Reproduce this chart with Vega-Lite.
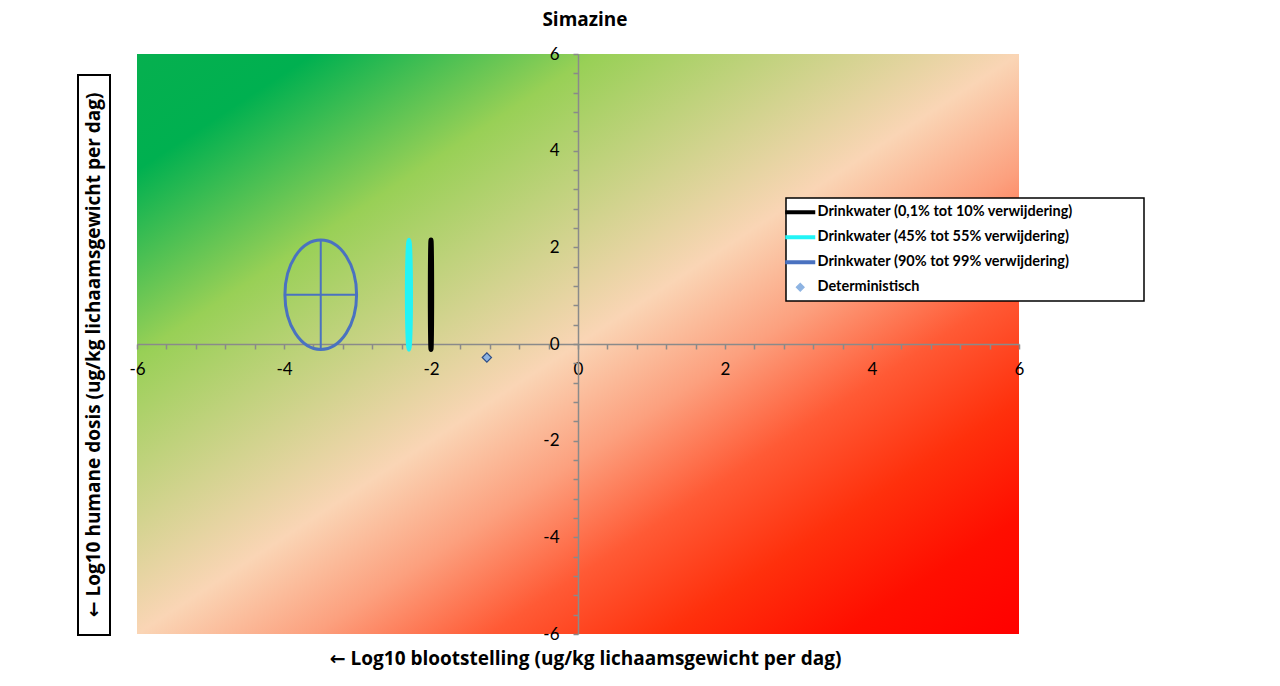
{
  "$schema": "https://vega.github.io/schema/vega-lite/v6.json",
  "background": "white",
  "autosize": {"type": "pad"},
  "padding": {"left": 77, "top": 11, "right": 5, "bottom": 5},
  "config": {"font": "Lato", "view": {"stroke": null}},
  "spacing": 59,
  "bounds": "flush",
  "hconcat": [
    {
      "spacing": 0,
      "bounds": "flush",
      "vconcat": [
        {"width": 32, "height": 21, "data": {"values": []}, "mark": "text", "encoding": {}},
        {
          "width": 32,
          "height": 560,
          "view": {"stroke": "black", "strokeWidth": 2, "fill": "white"},
          "data": {"values": [{"t": "← Log10 humane dosis (ug/kg lichaamsgewicht per dag)"}]},
          "mark": {"type": "text", "angle": 270, "font": "Open Sans, DejaVu Sans", "fontSize": 19, "fontWeight": "bold", "color": "black", "align": "center", "baseline": "middle"},
          "encoding": {"text": {"field": "t", "type": "nominal"}}
        }
      ]
    },
    {
      "width": 882,
      "height": 580,
      "title": {"text": "Simazine", "font": "Open Sans", "fontSize": 19, "fontWeight": "bold", "color": "black", "anchor": "middle", "dx": 7, "offset": 15},
      "view": {
        "stroke": null,
        "fill": {
          "gradient": "linear", "x1": 0, "y1": 0, "x2": 1, "y2": 1,
          "stops": [
            {"offset": 0, "color": "#06b04f"},
            {"offset": 0.1, "color": "#00b050"},
            {"offset": 0.26, "color": "#98d056"},
            {"offset": 0.5, "color": "#fad5b5"},
            {"offset": 0.6, "color": "#fca07e"},
            {"offset": 0.7, "color": "#ff5a35"},
            {"offset": 0.8, "color": "#ff300c"},
            {"offset": 0.9, "color": "#ff0e00"},
            {"offset": 1, "color": "#ff0000"}
          ]
        }
      },
      "data": {
        "values": [
          {"series": "Drinkwater (0,1% tot 10% verwijdering)", "x": -2.0, "y": 1.02, "xlo": -2.01, "xhi": -1.99, "ylo": -0.115, "yhi": 2.155},
          {"series": "Drinkwater (45% tot 55% verwijdering)", "x": -2.3, "y": 1.02, "xlo": -2.33, "xhi": -2.27, "ylo": -0.115, "yhi": 2.155},
          {"series": "Drinkwater (90% tot 99% verwijdering)", "x": -3.5, "y": 1.02, "xlo": -3.985, "xhi": -3.015, "ylo": -0.115, "yhi": 2.155},
          {"series": "Deterministisch", "x": -1.24, "y": -0.28}
        ]
      },
      "encoding": {
        "x": {
          "field": "x", "type": "quantitative",
          "scale": {"domain": [-6, 6], "nice": false, "zero": false},
          "axis": {
            "orient": "bottom", "offset": -290,
            "values": [-6,-5.6,-5.2,-4.8,-4.4,-4,-3.6,-3.2,-2.8,-2.4,-2,-1.6,-1.2,-0.8,-0.4,0,0.4,0.8,1.2,1.6,2,2.4,2.8,3.2,3.6,4,4.4,4.8,5.2,5.6,6],
            "labelExpr": "abs(round(datum.value*10) % 20) == 0 ? '' + round(datum.value) : ''",
            "labelFlush": false, "labelOverlap": false, "labelFontSize": 17, "labelColor": "black", "labelPadding": 12,
            "tickSize": 5, "tickColor": "#8a8a8a", "tickWidth": 1.5, "domainColor": "#8a8a8a", "domainWidth": 1.5, "grid": false,
            "title": "← Log10 blootstelling (ug/kg lichaamsgewicht per dag)",
            "titleFont": "Open Sans, DejaVu Sans", "titleFontSize": 19, "titleFontWeight": "bold", "titleColor": "black",
            "titleX": 448, "titleY": 314, "titleAlign": "center", "titleBaseline": "middle", "titleAngle": 0
          }
        },
        "y": {
          "field": "y", "type": "quantitative",
          "scale": {"domain": [-6, 6], "nice": false, "zero": false},
          "axis": {
            "orient": "left", "offset": -441,
            "values": [-6,-5.6,-5.2,-4.8,-4.4,-4,-3.6,-3.2,-2.8,-2.4,-2,-1.6,-1.2,-0.8,-0.4,0,0.4,0.8,1.2,1.6,2,2.4,2.8,3.2,3.6,4,4.4,4.8,5.2,5.6,6],
            "labelExpr": "abs(round(datum.value*10) % 20) == 0 ? '' + round(datum.value) : ''",
            "labelFlush": false, "labelOverlap": false, "labelFontSize": 17, "labelColor": "black", "labelPadding": 14, "labelBaseline": "middle",
            "tickSize": 5, "tickColor": "#8a8a8a", "tickWidth": 1.5, "domainColor": "#8a8a8a", "domainWidth": 1.5, "grid": false,
            "title": null
          }
        },
        "color": {
          "field": "series", "type": "nominal",
          "scale": {
            "domain": ["Drinkwater (0,1% tot 10% verwijdering)", "Drinkwater (45% tot 55% verwijdering)", "Drinkwater (90% tot 99% verwijdering)", "Deterministisch"],
            "range": ["#000000", "#22f4f6", "#4a72c0", "#8db3e2"]
          },
          "legend": {
            "orient": "none", "legendX": 708, "legendY": 144,
            "title": "\u00a0", "titleOrient": "right", "titlePadding": 64, "titleFontSize": 10,
            "strokeColor": "black", "fillColor": "white", "padding": 7,
            "rowPadding": 8, "labelFontSize": 14.5, "labelFontWeight": "bold", "labelColor": "black",
            "labelOffset": 10, "labelLimit": 500, "symbolSize": 900, "symbolType": "stroke", "symbolStrokeWidth": 4,
            "encode": {
              "legend": {"update": {"strokeWidth": {"value": 1.5}}},
              "symbols": {
                "update": {
                  "shape": {"signal": "datum.value === 'Deterministisch' ? 'diamond' : 'stroke'"},
                  "size": {"signal": "datum.value === 'Deterministisch' ? 60 : 900"},
                  "strokeWidth": {"signal": "datum.value === 'Deterministisch' ? 1.2 : 4"},
                  "stroke": {"signal": "datum.value === 'Deterministisch' ? '#2e4e88' : scale('color', datum.value)"},
                  "fill": {"signal": "datum.value === 'Deterministisch' ? '#8db3e2' : 'transparent'"},
                  "opacity": {"value": 1}
                }
              }
            }
          }
        }
      },
      "layer": [
        {
          "transform": [{"filter": "datum.series === 'Drinkwater (90% tot 99% verwijdering)'"}],
          "mark": {"type": "rule", "strokeWidth": 2},
          "encoding": {"y": {"field": "ylo", "type": "quantitative"}, "y2": {"field": "yhi"}}
        },
        {
          "transform": [{"filter": "datum.series === 'Drinkwater (90% tot 99% verwijdering)'"}],
          "mark": {"type": "rule", "strokeWidth": 2},
          "encoding": {"x": {"field": "xlo", "type": "quantitative"}, "x2": {"field": "xhi"}}
        },
        {
          "transform": [{"filter": "datum.series === 'Drinkwater (90% tot 99% verwijdering)'"}],
          "mark": {"type": "point", "shape": "M -0.655 0 A 0.655 1 0 1 1 0.655 0 A 0.655 1 0 1 1 -0.655 0 Z", "size": 11970, "filled": false, "strokeWidth": 3, "opacity": 1}
        },
        {
          "transform": [{"filter": "datum.series === 'Drinkwater (45% tot 55% verwijdering)'"}],
          "mark": {"type": "point", "shape": "M -0.033 0 A 0.033 1 0 1 1 0.033 0 A 0.033 1 0 1 1 -0.033 0 Z", "size": 11970, "filled": false, "strokeWidth": 4.5, "opacity": 1}
        },
        {
          "transform": [{"filter": "datum.series === 'Drinkwater (0,1% tot 10% verwijdering)'"}],
          "mark": {"type": "point", "shape": "M -0.012 0 A 0.012 1 0 1 1 0.012 0 A 0.012 1 0 1 1 -0.012 0 Z", "size": 11970, "filled": false, "strokeWidth": 5, "opacity": 1}
        },
        {
          "transform": [{"filter": "datum.series === 'Deterministisch'"}],
          "mark": {"type": "point", "shape": "diamond", "size": 85, "filled": true, "stroke": "#2e4e88", "strokeWidth": 1.2, "opacity": 1}
        }
      ]
    }
  ]
}
